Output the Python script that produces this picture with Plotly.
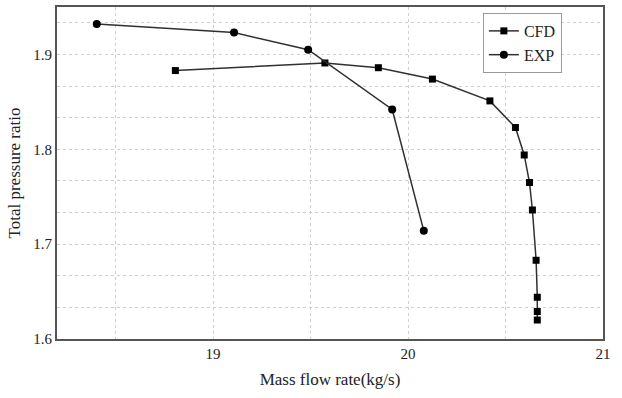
import plotly.graph_objects as go

cfd_x = [18.807, 19.574, 19.848, 20.125, 20.42, 20.551, 20.596, 20.623, 20.638, 20.657, 20.663, 20.663, 20.663]
cfd_y = [1.883, 1.891, 1.886, 1.874, 1.851, 1.823, 1.794, 1.765, 1.736, 1.683, 1.644, 1.629, 1.620]
exp_x = [18.404, 19.108, 19.488, 19.919, 20.081]
exp_y = [1.932, 1.923, 1.905, 1.842, 1.714]

x_ticks = [19, 20, 21]
y_ticks = [1.6, 1.7, 1.8, 1.9]

font = "Liberation Serif"
lc = "#303030"

fig = go.Figure()
fig.add_trace(go.Scatter(x=cfd_x, y=cfd_y, mode="lines+markers", name="CFD",
                         line=dict(color=lc, width=1.5),
                         marker=dict(symbol="square", size=7, color="black")))
fig.add_trace(go.Scatter(x=exp_x, y=exp_y, mode="lines+markers", name="EXP",
                         line=dict(color=lc, width=1.5),
                         marker=dict(symbol="circle", size=8, color="black")))

grid = "#cfcfcf"
fig.update_layout(
    width=622, height=398,
    margin=dict(l=57, r=19, t=5, b=59),
    paper_bgcolor="white", plot_bgcolor="white",
    font=dict(family=font, size=15, color="#222"),
    legend=dict(x=0.78, y=0.982, xanchor="left", yanchor="top",
                bordercolor="#999", borderwidth=1, bgcolor="white",
                font=dict(size=16), tracegroupgap=0, itemwidth=30),
    xaxis=dict(range=[18.2, 21], tickvals=x_ticks, ticktext=[str(v) for v in x_ticks],
               showgrid=True, gridcolor=grid, griddash="dot", gridwidth=1,
               minor=dict(tickvals=[18.5, 19.5, 20.5], showgrid=True, gridcolor=grid, griddash="dot", gridwidth=1),
               showline=True, linecolor="#555", linewidth=2, mirror=True,
               ticks="", zeroline=False, tickfont=dict(size=15),
               title=dict(text="Mass flow rate(kg/s)", font=dict(size=17), standoff=12)),
    yaxis=dict(range=[1.6, 1.95], tickvals=y_ticks, ticktext=[str(v) for v in y_ticks],
               showgrid=True, gridcolor=grid, griddash="dot", gridwidth=1,
               minor=dict(tickvals=[1.6 + k / 30 for k in range(11)], showgrid=True, gridcolor=grid, griddash="dot", gridwidth=1),
               showline=True, linecolor="#555", linewidth=2, mirror=True,
               ticks="", zeroline=False, tickfont=dict(size=15),
               title=dict(text="Total pressure ratio", font=dict(size=17), standoff=8)),
)
fig.write_html("out.html")
